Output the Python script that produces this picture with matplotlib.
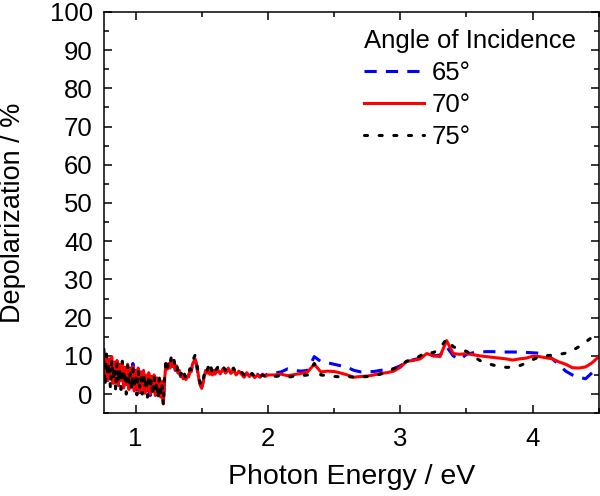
import numpy as np
import matplotlib
matplotlib.use("Agg")
import matplotlib.pyplot as plt
from matplotlib.ticker import MultipleLocator

plt.rcParams['font.family'] = ['Liberation Sans', 'DejaVu Sans']

# photon energy grid (eV)
energy = [
    0.76, 0.77, 0.78, 0.79, 0.80, 0.81, 0.82, 0.83, 0.84, 0.85,
    0.86, 0.87, 0.88, 0.89, 0.90, 0.91, 0.92, 0.93, 0.94, 0.95,
    0.96, 0.97, 0.98, 0.99, 1.00, 1.01, 1.02, 1.03, 1.04, 1.05,
    1.06, 1.07, 1.08, 1.09, 1.10, 1.11, 1.12, 1.13, 1.14, 1.15,
    1.16, 1.17, 1.18, 1.19, 1.20, 1.21, 1.22, 1.23, 1.24,
    1.25, 1.26, 1.27, 1.28, 1.29, 1.30, 1.31, 1.32, 1.33, 1.34,
    1.35, 1.36, 1.37, 1.38, 1.39, 1.40, 1.41, 1.42, 1.43, 1.44,
    1.45, 1.46, 1.47, 1.48, 1.49, 1.50, 1.51, 1.52, 1.53, 1.54,
    1.55, 1.56, 1.57, 1.58, 1.59, 1.60,
    1.62, 1.64, 1.66, 1.68, 1.70, 1.72, 1.74, 1.76, 1.78, 1.80,
    1.82, 1.84, 1.86, 1.88, 1.90, 1.92, 1.94, 1.96, 1.98, 2.00,
    2.05, 2.10, 2.15, 2.20, 2.25, 2.30, 2.35, 2.40, 2.45, 2.50,
    2.55, 2.60, 2.65, 2.70, 2.75, 2.80, 2.85, 2.90, 2.95, 3.00,
    3.05, 3.10, 3.15, 3.20, 3.25, 3.30, 3.35, 3.40, 3.45, 3.50,
    3.55, 3.60, 3.65, 3.70, 3.75, 3.80, 3.85, 3.90, 3.95, 4.00,
    4.05, 4.10, 4.15, 4.20, 4.25, 4.30, 4.35, 4.40, 4.45, 4.50,
]

# depolarization (%) for each angle of incidence
depol_65 = [
    12.0, 5.6, 9.6, 4.0, 9.8, 3.8, 9.0, 3.2, 8.6, 2.6,
    8.4, 2.4, 7.8, 3.0, 7.4, 2.0, 7.4, 2.2, 7.0, 1.6,
    6.8, 1.8, 8.0, 1.0, 6.2, 1.2, 6.0, 0.4, 5.8, 1.6,
    5.6, -0.2, 5.2, 0.8, 5.0, -0.4, 4.6, 0.4, 4.4, -0.2,
    4.2, 0.6, 3.4, -0.6, 2.8, -2.0, 4.4, 7.4, 7.2,
    7.6, 7.0, 8.6, 7.4, 8.0, 6.2, 7.2, 5.6, 6.0, 4.6,
    5.0, 4.2, 4.6, 3.6, 4.4, 4.8, 5.8, 6.2, 7.6, 8.8,
    9.0, 7.6, 5.6, 3.8, 2.4, 1.8, 3.2, 5.0, 6.0, 5.6,
    6.6, 5.4, 6.4, 5.2, 6.0, 5.4,
    6.2, 5.5, 6.4, 5.6, 6.6, 5.6, 6.0, 5.2, 5.8, 5.4,
    4.8, 5.4, 4.8, 5.0, 4.6, 5.2, 4.6, 5.0, 4.8, 5.4,
    5.5, 5.8, 6.6, 6.2, 6.0, 6.2, 9.8, 8.5, 8.2, 7.8,
    7.4, 7.0, 6.2, 5.8, 5.8, 5.9, 6.2, 6.4, 6.6, 7.4,
    8.4, 9.0, 9.4, 10.4, 10.0, 10.2, 12.4, 10.0, 9.0, 10.4,
    10.8, 11.0, 11.1, 11.1, 11.0, 11.0, 11.0, 11.0, 10.9, 10.8,
    10.7, 10.5, 9.2, 7.6, 6.0, 5.0, 4.4, 4.0, 5.6, 7.2,
]
depol_70 = [
    11.0, 5.0, 10.0, 3.5, 9.2, 4.2, 9.8, 2.8, 8.4, 3.0,
    8.8, 2.2, 7.6, 3.5, 8.2, 1.6, 7.0, 2.5, 7.8, 1.2,
    6.6, 2.0, 7.2, 0.8, 6.0, 1.5, 6.8, 0.5, 5.6, 1.2,
    6.2, 0.2, 5.0, 1.0, 5.6, 0.0, 4.6, 0.6, 5.0, -0.4,
    4.2, 0.2, 3.8, -0.8, 3.4, -2.6, 4.0, 8.0, 6.5,
    8.0, 6.8, 9.0, 7.2, 8.4, 6.5, 7.4, 5.5, 6.2, 4.8,
    5.2, 4.0, 4.8, 3.8, 4.6, 4.5, 6.0, 5.8, 7.8, 8.5,
    9.2, 8.0, 6.0, 3.5, 2.2, 1.5, 3.0, 4.8, 6.2, 5.5,
    6.8, 5.2, 6.5, 5.0, 6.2, 5.2,
    6.4, 5.3, 6.6, 5.5, 6.8, 5.4, 6.3, 5.0, 6.0, 5.2,
    4.4, 5.6, 4.6, 5.2, 4.3, 5.0, 4.4, 5.2, 4.6, 5.0,
    5.0, 5.2, 4.8, 5.1, 5.4, 5.8, 7.8, 5.8, 6.0, 5.9,
    5.5, 5.0, 4.4, 4.6, 4.7, 5.0, 5.4, 5.6, 6.0, 7.0,
    8.6, 8.8, 9.2, 10.6, 10.0, 9.8, 14.0, 10.6, 10.4, 10.6,
    10.3, 10.0, 9.8, 9.6, 9.4, 9.2, 8.9, 9.2, 9.4, 9.9,
    9.8, 9.5, 9.2, 8.4, 7.8, 6.9, 6.8, 7.1, 8.2, 9.8,
]
depol_75 = [
    8.6, 2.0, 10.6, 4.6, 8.4, 1.4, 9.2, 3.8, 7.2, 0.8,
    8.4, 3.0, 6.8, 1.2, 8.6, 2.8, 6.2, 0.0, 7.4, 2.4,
    5.6, 1.0, 6.8, 2.6, 5.2, -0.2, 6.4, 1.8, 4.8, 0.0,
    5.8, 1.4, 4.6, -0.8, 5.2, 1.2, 4.0, -0.6, 4.6, 1.0,
    3.4, -1.4, 4.2, 0.4, 2.8, -3.0, 5.0, 9.0, 7.0,
    8.6, 7.6, 9.8, 8.2, 9.0, 7.0, 8.0, 5.8, 6.8, 5.0,
    5.8, 4.2, 5.2, 4.0, 5.0, 5.2, 6.6, 6.4, 8.4, 9.4,
    10.2, 8.6, 6.4, 4.0, 2.8, 2.0, 3.6, 5.4, 6.8, 6.0,
    7.2, 5.8, 7.0, 5.6, 6.8, 6.0,
    7.0, 6.0, 7.2, 6.2, 7.0, 6.0, 6.8, 5.6, 6.4, 5.8,
    5.0, 6.0, 5.0, 5.4, 4.6, 5.2, 4.4, 5.0, 4.6, 4.8,
    4.6, 4.8, 4.4, 4.7, 4.8, 5.0, 8.0, 5.0, 4.8, 4.6,
    4.5, 4.6, 4.4, 4.4, 4.6, 4.8, 5.2, 5.8, 6.6, 7.6,
    8.6, 9.0, 10.0, 11.0, 10.8, 12.0, 14.4, 12.4, 11.6, 11.2,
    10.0, 8.8, 8.1, 7.6, 7.2, 7.0, 7.0, 7.4, 8.1, 9.0,
    9.7, 10.0, 10.2, 10.4, 10.7, 11.4, 12.4, 13.6, 14.9, 15.2,
]

fig = plt.figure(figsize=(6.0, 4.96), dpi=100)
ax = fig.add_axes([0.173, 0.167, 0.825, 0.809])

ax.plot(energy, depol_65, color='#0000ff', lw=2.2, dashes=(4, 3), label='65°')
ax.plot(energy, depol_70, color='#ff0000', lw=2.2, label='70°')
ax.plot(energy, depol_75, color='black', lw=2.2, dashes=(1, 3.8),
        dash_capstyle='round', label='75°')

ax.set_xlim(0.76, 4.5)
ax.set_ylim(-5, 100)
ax.xaxis.set_major_locator(MultipleLocator(1))
ax.xaxis.set_minor_locator(MultipleLocator(0.5))
ax.yaxis.set_major_locator(MultipleLocator(10))
ax.yaxis.set_minor_locator(MultipleLocator(5))
ax.tick_params(which='both', direction='in', top=True, right=True, width=1.1)
ax.tick_params(which='major', length=6, labelsize=18.5)
ax.tick_params(axis='x', which='major', pad=10)
ax.tick_params(axis='y', which='major', pad=8)
ax.tick_params(which='minor', length=3.5)
for s in ax.spines.values():
    s.set_linewidth(1.1)

ax.set_xlabel('Photon Energy / eV', fontsize=20.5, labelpad=9)
ax.set_ylabel('Depolarization / %', fontsize=19.5, labelpad=17)

leg = ax.legend(title='Angle of Incidence', loc='upper left',
                bbox_to_anchor=(0.525, 0.958), frameon=False, fontsize=18.5,
                title_fontsize=18.5, handlelength=2.35, handletextpad=0.3,
                labelspacing=0.32, borderpad=0, borderaxespad=0)
leg._legend_box.align = 'left'

fig.savefig('out.png', dpi=100)
